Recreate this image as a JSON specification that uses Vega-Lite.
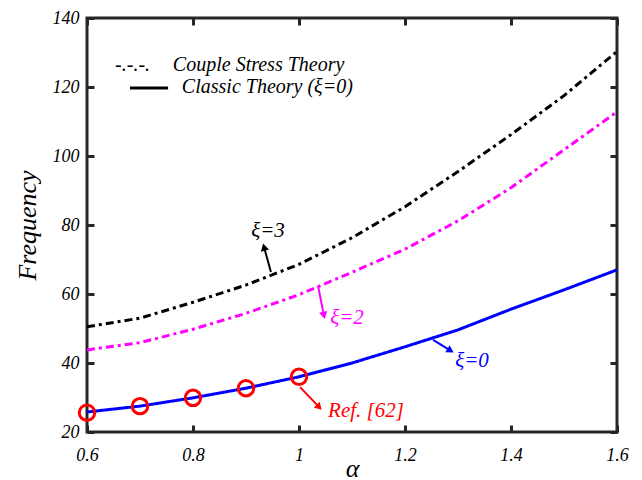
{
  "$schema": "https://vega.github.io/schema/vega-lite/v6.json",
  "width": 530,
  "height": 414,
  "autosize": {"type": "none"},
  "padding": {"left": 87, "top": 18, "right": 25, "bottom": 48},
  "background": "white",
  "config": {
    "view": {"stroke": "#262626", "strokeWidth": 3},
    "axis": {
      "grid": false,
      "domain": false,
      "tickColor": "#262626",
      "tickWidth": 3,
      "tickSize": -7,
      "labelFont": "Liberation Serif, serif",
      "labelFontStyle": "italic",
      "labelFontSize": 18,
      "labelColor": "#000000",
      "titleFont": "Liberation Serif, serif",
      "titleFontStyle": "italic",
      "titleFontWeight": "normal",
      "titleFontSize": 26,
      "titleColor": "#000000"
    },
    "text": {"font": "Liberation Serif, serif", "fontStyle": "italic"}
  },
  "datasets": {
    "curves": [
      {"a": 0.6, "f": 50.5, "s": "ξ=3"}, {"a": 0.7, "f": 53.0, "s": "ξ=3"}, {"a": 0.8, "f": 57.6, "s": "ξ=3"},
      {"a": 0.9, "f": 62.6, "s": "ξ=3"}, {"a": 1.0, "f": 68.6, "s": "ξ=3"}, {"a": 1.1, "f": 76.3, "s": "ξ=3"},
      {"a": 1.2, "f": 85.3, "s": "ξ=3"}, {"a": 1.3, "f": 95.5, "s": "ξ=3"}, {"a": 1.4, "f": 106.2, "s": "ξ=3"},
      {"a": 1.5, "f": 117.5, "s": "ξ=3"}, {"a": 1.6, "f": 130.3, "s": "ξ=3"},
      {"a": 0.6, "f": 43.8, "s": "ξ=2"}, {"a": 0.7, "f": 45.9, "s": "ξ=2"}, {"a": 0.8, "f": 49.8, "s": "ξ=2"},
      {"a": 0.9, "f": 54.4, "s": "ξ=2"}, {"a": 1.0, "f": 59.8, "s": "ξ=2"}, {"a": 1.1, "f": 66.3, "s": "ξ=2"},
      {"a": 1.2, "f": 73.0, "s": "ξ=2"}, {"a": 1.3, "f": 81.2, "s": "ξ=2"}, {"a": 1.4, "f": 90.8, "s": "ξ=2"},
      {"a": 1.5, "f": 101.8, "s": "ξ=2"}, {"a": 1.6, "f": 112.8, "s": "ξ=2"},
      {"a": 0.6, "f": 25.8, "s": "ξ=0"}, {"a": 0.7, "f": 27.5, "s": "ξ=0"}, {"a": 0.8, "f": 29.9, "s": "ξ=0"},
      {"a": 0.9, "f": 32.7, "s": "ξ=0"}, {"a": 1.0, "f": 36.0, "s": "ξ=0"}, {"a": 1.1, "f": 40.0, "s": "ξ=0"},
      {"a": 1.2, "f": 44.7, "s": "ξ=0"}, {"a": 1.3, "f": 49.6, "s": "ξ=0"}, {"a": 1.4, "f": 55.6, "s": "ξ=0"},
      {"a": 1.5, "f": 61.2, "s": "ξ=0"}, {"a": 1.6, "f": 67.0, "s": "ξ=0"}
    ],
    "ref": [
      {"a": 0.6, "f": 25.6}, {"a": 0.7, "f": 27.5}, {"a": 0.8, "f": 29.9}, {"a": 0.9, "f": 32.7}, {"a": 1.0, "f": 36.0}
    ],
    "arrows": [
      {"s": "ξ=3", "a": 0.947, "f": 66.4, "a2": 0.934, "f2": 73.6},
      {"s": "ξ=2", "a": 1.036, "f": 62.3, "a2": 1.047, "f2": 53.8},
      {"s": "ξ=0", "a": 1.253, "f": 46.7, "a2": 1.286, "f2": 43.6},
      {"s": "Ref", "a": 1.002, "f": 33.0, "a2": 1.038, "f2": 27.2}
    ],
    "labels": [
      {"s": "ξ=3", "t": "ξ=3", "a": 0.9415, "f": 78.3},
      {"s": "ξ=2", "t": "ξ=2", "a": 1.0906, "f": 53.0},
      {"s": "ξ=0", "t": "ξ=0", "a": 1.3264, "f": 40.6},
      {"s": "Ref", "t": "Ref. [62]", "a": 1.1264, "f": 26.1}
    ],
    "legendText": [
      {"t": "-.-.-.", "a": 0.653, "f": 126.4},
      {"t": "Couple Stress Theory", "a": 0.762, "f": 126.4},
      {"t": "Classic Theory (ξ=0)", "a": 0.779, "f": 119.9}
    ],
    "legendLine": [
      {"a": 0.681, "a2": 0.753, "f": 119.7}
    ]
  },
  "resolve": {"axis": {"x": "independent", "y": "independent"}},
  "layer": [
    {
      "data": {"name": "curves"},
      "mark": {"type": "line", "strokeWidth": 3, "clip": true},
      "encoding": {
        "x": {"field": "a", "type": "quantitative", "scale": {"domain": [0.6, 1.6], "nice": false, "zero": false},
              "axis": {"values": [0.6, 0.8, 1, 1.2, 1.4, 1.6], "format": "~g", "title": "α", "labelPadding": 21, "titlePadding": -9, "labelFlush": false}},
        "y": {"field": "f", "type": "quantitative", "scale": {"domain": [20, 140], "nice": false, "zero": false},
              "axis": {"values": [20, 40, 60, 80, 100, 120, 140], "title": "Frequency", "labelPadding": 15, "titlePadding": 12, "labelFlush": false}},
        "color": {"field": "s", "type": "nominal", "legend": null,
                  "scale": {"domain": ["ξ=3", "ξ=2", "ξ=0", "Ref"], "range": ["#000000", "#ff00ff", "#0000ff", "#ff0000"]}},
        "strokeDash": {"field": "s", "type": "nominal", "legend": null,
                       "scale": {"domain": ["ξ=3", "ξ=2", "ξ=0"], "range": [[8, 4, 3, 4], [8, 4, 3, 4], [1, 0]]}},
        "detail": {"field": "s"}
      }
    },
    {
      "data": {"name": "ref"},
      "mark": {"type": "point", "shape": "circle", "filled": false, "color": "#ff0000", "size": 240, "strokeWidth": 3, "opacity": 1},
      "encoding": {
        "x": {"field": "a", "type": "quantitative", "axis": {"orient": "top", "values": [0.6, 0.8, 1, 1.2, 1.4, 1.6], "labels": false, "title": null}},
        "y": {"field": "f", "type": "quantitative", "axis": {"orient": "right", "values": [20, 40, 60, 80, 100, 120, 140], "labels": false, "title": null}}
      }
    },
    {
      "data": {"name": "arrows"},
      "mark": {"type": "rule", "strokeWidth": 2},
      "encoding": {
        "x": {"field": "a", "type": "quantitative", "axis": null},
        "y": {"field": "f", "type": "quantitative", "axis": null},
        "x2": {"field": "a2"},
        "y2": {"field": "f2"},
        "color": {"field": "s", "type": "nominal", "legend": null}
      }
    },
    {
      "data": {"name": "arrows"},
      "transform": [{"filter": "datum.s == 'ξ=3'"}],
      "mark": {"type": "point", "shape": "triangle-up", "filled": true, "size": 70, "angle": 345, "opacity": 1},
      "encoding": {
        "x": {"field": "a2", "type": "quantitative", "axis": null},
        "y": {"field": "f2", "type": "quantitative", "axis": null},
        "color": {"field": "s", "type": "nominal", "legend": null}
      }
    },
    {
      "data": {"name": "arrows"},
      "transform": [{"filter": "datum.s == 'ξ=2'"}],
      "mark": {"type": "point", "shape": "triangle-up", "filled": true, "size": 70, "angle": 168, "opacity": 1},
      "encoding": {
        "x": {"field": "a2", "type": "quantitative", "axis": null},
        "y": {"field": "f2", "type": "quantitative", "axis": null},
        "color": {"field": "s", "type": "nominal", "legend": null}
      }
    },
    {
      "data": {"name": "arrows"},
      "transform": [{"filter": "datum.s == 'ξ=0'"}],
      "mark": {"type": "point", "shape": "triangle-up", "filled": true, "size": 70, "angle": 121, "opacity": 1},
      "encoding": {
        "x": {"field": "a2", "type": "quantitative", "axis": null},
        "y": {"field": "f2", "type": "quantitative", "axis": null},
        "color": {"field": "s", "type": "nominal", "legend": null}
      }
    },
    {
      "data": {"name": "arrows"},
      "transform": [{"filter": "datum.s == 'Ref'"}],
      "mark": {"type": "point", "shape": "triangle-up", "filled": true, "size": 70, "angle": 136, "opacity": 1},
      "encoding": {
        "x": {"field": "a2", "type": "quantitative", "axis": null},
        "y": {"field": "f2", "type": "quantitative", "axis": null},
        "color": {"field": "s", "type": "nominal", "legend": null}
      }
    },
    {
      "data": {"name": "labels"},
      "mark": {"type": "text", "fontSize": 21, "align": "center", "baseline": "middle"},
      "encoding": {
        "x": {"field": "a", "type": "quantitative", "axis": null},
        "y": {"field": "f", "type": "quantitative", "axis": null},
        "text": {"field": "t"},
        "color": {"field": "s", "type": "nominal", "legend": null}
      }
    },
    {
      "data": {"name": "legendText"},
      "mark": {"type": "text", "fontSize": 20, "align": "left", "baseline": "middle", "color": "#000000"},
      "encoding": {
        "x": {"field": "a", "type": "quantitative", "axis": null},
        "y": {"field": "f", "type": "quantitative", "axis": null},
        "text": {"field": "t"}
      }
    },
    {
      "data": {"name": "legendLine"},
      "mark": {"type": "rule", "strokeWidth": 3, "color": "#000000"},
      "encoding": {
        "x": {"field": "a", "type": "quantitative", "axis": null},
        "x2": {"field": "a2"},
        "y": {"field": "f", "type": "quantitative", "axis": null}
      }
    }
  ]
}
